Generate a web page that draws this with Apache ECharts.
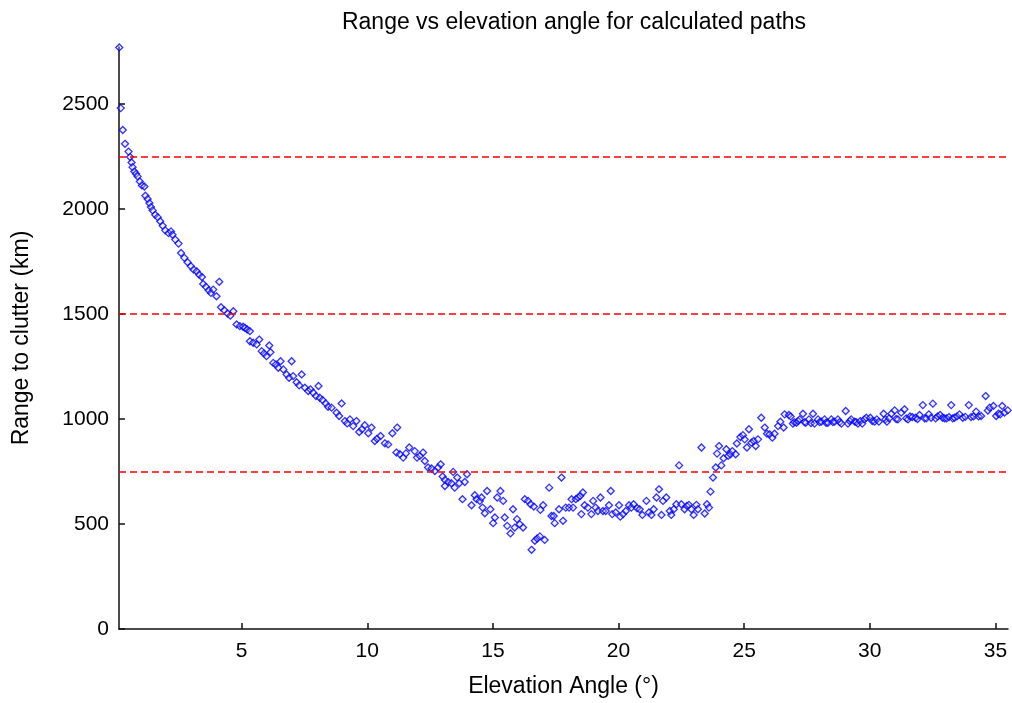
<!DOCTYPE html>
<html>
<head>
<meta charset="utf-8">
<title>Range vs elevation angle for calculated paths</title>
<script src="https://cdn.jsdelivr.net/npm/echarts@6/dist/echarts.min.js"></script>
<style>
  html, body { margin: 0; padding: 0; background: #ffffff; }
  #chart { width: 1012px; height: 703px; }
</style>
</head>
<body>
<div id="chart"></div>
<script>
// Elevation angle of each calculated path (degrees)
const elevationDeg = [
  0.13, 0.19, 0.27, 0.36, 0.50, 0.56, 0.62, 0.66, 0.73, 0.80, 0.86, 0.95, 1.03, 1.13, 1.17, 1.26,
  1.33, 1.39, 1.46, 1.56, 1.66, 1.76, 1.86, 1.96, 2.09, 2.19, 2.25, 2.36, 2.49, 2.59, 2.72, 2.85,
  2.98, 3.09, 3.21, 3.31, 3.42, 3.47, 3.58, 3.69, 3.78, 3.87, 4.00, 4.11, 4.18, 4.31, 4.44, 4.55,
  4.67, 4.80, 4.93, 5.06, 5.13, 5.22, 5.33, 5.33, 5.46, 5.60, 5.70, 5.80, 5.89, 5.99, 6.10, 6.15,
  6.26, 6.36, 6.46, 6.55, 6.66, 6.79, 6.89, 6.99, 7.05, 7.19, 7.29, 7.39, 7.52, 7.65, 7.74, 7.85,
  7.96, 8.06, 8.11, 8.22, 8.35, 8.44, 8.58, 8.78, 8.88, 8.98, 9.11, 9.20, 9.31, 9.44, 9.57, 9.68,
  9.79, 9.90, 10.04, 10.17, 10.30, 10.39, 10.53, 10.70, 10.83, 11.00, 11.16, 11.19, 11.30, 11.43, 11.54, 11.67,
  11.89, 11.98, 12.09, 12.22, 12.29, 12.42, 12.56, 12.69, 12.82, 12.92, 13.00, 13.09, 13.09, 13.22, 13.35, 13.42,
  13.48, 13.58, 13.66, 13.79, 13.88, 13.97, 14.15, 14.28, 14.35, 14.48, 14.55, 14.59, 14.68, 14.77, 14.90, 15.01,
  15.08, 15.17, 15.30, 15.41, 15.47, 15.57, 15.70, 15.80, 15.87, 15.96, 16.07, 16.20, 16.27, 16.40, 16.50, 16.54,
  16.63, 16.67, 16.76, 16.87, 16.89, 17.00, 17.06, 17.24, 17.33, 17.42, 17.46, 17.63, 17.73, 17.79, 17.90, 18.03,
  18.13, 18.19, 18.30, 18.39, 18.48, 18.52, 18.58, 18.65, 18.78, 18.92, 18.99, 19.09, 19.18, 19.28, 19.38, 19.49,
  19.62, 19.69, 19.75, 19.89, 20.02, 20.07, 20.18, 20.29, 20.42, 20.51, 20.60, 20.74, 20.84, 20.95, 21.11, 21.21,
  21.31, 21.40, 21.51, 21.61, 21.71, 21.77, 21.90, 22.04, 22.10, 22.20, 22.30, 22.41, 22.50, 22.63, 22.72, 22.80,
  22.90, 22.99, 23.10, 23.16, 23.30, 23.43, 23.52, 23.60, 23.66, 23.76, 23.87, 23.92, 24.00, 24.09, 24.18, 24.29,
  24.36, 24.45, 24.53, 24.66, 24.71, 24.85, 24.95, 25.02, 25.11, 25.19, 25.29, 25.38, 25.46, 25.55, 25.68, 25.82,
  25.91, 26.01, 26.12, 26.21, 26.35, 26.44, 26.57, 26.61, 26.78, 26.85, 26.94, 27.00, 27.08, 27.15, 27.21, 27.34,
  27.40, 27.45, 27.58, 27.66, 27.74, 27.80, 27.94, 28.00, 28.07, 28.20, 28.26, 28.33, 28.47, 28.53, 28.60, 28.73,
  28.80, 28.87, 29.04, 29.13, 29.20, 29.26, 29.40, 29.46, 29.53, 29.62, 29.70, 29.78, 29.86, 30.02, 30.10, 30.19,
  30.28, 30.36, 30.55, 30.62, 30.68, 30.77, 30.86, 30.99, 31.05, 31.12, 31.25, 31.38, 31.45, 31.52, 31.60, 31.69,
  31.82, 31.90, 31.98, 32.11, 32.18, 32.25, 32.35, 32.44, 32.51, 32.62, 32.70, 32.80, 32.90, 32.98, 33.06, 33.15,
  33.24, 33.30, 33.37, 33.47, 33.57, 33.70, 33.80, 33.94, 34.03, 34.13, 34.23, 34.33, 34.43, 34.61, 34.70, 34.77,
  34.92, 35.03, 35.12, 35.19, 35.27, 35.36, 35.49
];

// Range to clutter along each path (km)
const rangeKm = [
  2769, 2480, 2376, 2310, 2273, 2247, 2221, 2199, 2178, 2167, 2155, 2131, 2112, 2107, 2063, 2047,
  2028, 2009, 1993, 1972, 1961, 1941, 1920, 1898, 1885, 1893, 1877, 1854, 1835, 1790, 1767, 1746,
  1727, 1711, 1703, 1687, 1676, 1643, 1629, 1613, 1600, 1616, 1584, 1653, 1532, 1518, 1502, 1492,
  1513, 1450, 1442, 1439, 1434, 1426, 1418, 1370, 1363, 1355, 1378, 1323, 1312, 1299, 1350, 1318,
  1267, 1259, 1244, 1275, 1236, 1212, 1196, 1275, 1204, 1175, 1160, 1212, 1149, 1133, 1141, 1125,
  1109, 1157, 1101, 1090, 1074, 1058, 1054, 1030, 1014, 1074, 990, 979, 998, 966, 990, 938,
  951, 970, 932, 959, 895, 906, 919, 884, 879, 932, 840, 959, 832, 816, 836, 864,
  847, 816, 824, 840, 800, 769, 764, 752, 769, 784, 726, 710, 681, 700, 694, 748,
  673, 721, 694, 618, 700, 737, 589, 637, 618, 610, 626, 578, 551, 657, 570, 504,
  531, 626, 657, 610, 531, 491, 455, 570, 483, 523, 499, 483, 618, 610, 594, 377,
  583, 420, 431, 441, 567, 589, 424, 673, 538, 538, 504, 570, 721, 515, 578, 578,
  618, 578, 618, 626, 634, 547, 650, 589, 578, 547, 610, 578, 562, 626, 562, 562,
  589, 657, 547, 555, 589, 535, 547, 562, 589, 578, 594, 575, 570, 543, 610, 555,
  543, 570, 626, 665, 543, 610, 626, 562, 543, 570, 594, 779, 594, 570, 586, 591,
  570, 543, 591, 570, 864, 550, 594, 578, 654, 721, 769, 835, 871, 779, 813, 856,
  824, 832, 847, 832, 883, 914, 923, 903, 864, 951, 887, 895, 871, 903, 1006, 959,
  930, 927, 911, 930, 966, 987, 959, 1022, 1019, 1012, 978, 985, 982, 990, 998, 1025,
  985, 982, 998, 980, 1025, 978, 998, 985, 987, 998, 982, 982, 998, 985, 987, 998,
  985, 978, 1038, 978, 990, 998, 987, 985, 978, 990, 978, 998, 1006, 1006, 990, 987,
  998, 987, 1025, 998, 987, 1003, 1025, 1041, 1000, 998, 1030, 1046, 1003, 998, 1012, 1009,
  1006, 1000, 1019, 1066, 1003, 1003, 1022, 1006, 1073, 1003, 1012, 1019, 1006, 1003, 1003, 1009,
  1066, 1003, 1006, 1012, 1022, 1006, 1010, 1066, 1009, 1012, 1035, 1012, 1014, 1109, 1040, 1054,
  1062, 1014, 1025, 1022, 1062, 1030, 1041
];

// Horizontal reference levels (km)
const referenceLevels = [750, 1500, 2250];

// Axis tick positions
const xTicks = [5, 10, 15, 20, 25, 30, 35];
const yTicks = [0, 500, 1000, 1500, 2000, 2500];

const points = elevationDeg.map((e, i) => [e, rangeKm[i]]);

const font = '"Liberation Sans", Arial, sans-serif';
const plainNumber = v => String(v);

const chart = echarts.init(document.getElementById('chart'), null, { renderer: 'canvas' });

chart.setOption({
  backgroundColor: '#ffffff',
  animation: false,
  title: {
    text: 'Range vs elevation angle for calculated paths',
    left: 569,
    top: 6,
    textAlign: 'center',
    textStyle: { fontFamily: font, fontSize: 23, fontWeight: 'normal', color: '#000000' }
  },
  grid: { left: 119, right: 4, top: 47, bottom: 73, containLabel: false },
  xAxis: {
    type: 'value',
    min: 0.12,
    max: 35.5,
    name: 'Elevation Angle (°)',
    nameLocation: 'middle',
    nameGap: 46,
    nameTextStyle: { fontFamily: font, fontSize: 23, color: '#000000' },
    axisLine: { show: true, onZero: false, lineStyle: { color: '#111111', width: 1.5 } },
    axisTick: { show: true, inside: true, length: 6, customValues: xTicks, lineStyle: { color: '#111111', width: 1.5 } },
    axisLabel: { customValues: xTicks, formatter: plainNumber, fontFamily: font, fontSize: 21, color: '#000000', margin: 12 },
    splitLine: { show: false }
  },
  yAxis: {
    type: 'value',
    min: 0,
    max: 2771,
    name: 'Range to clutter (km)',
    nameLocation: 'middle',
    nameGap: 86,
    nameTextStyle: { fontFamily: font, fontSize: 23, color: '#000000' },
    axisLine: { show: true, onZero: false, lineStyle: { color: '#111111', width: 1.5 } },
    axisTick: { show: true, inside: true, length: 6, customValues: yTicks, lineStyle: { color: '#111111', width: 1.5 } },
    axisLabel: { customValues: yTicks, formatter: plainNumber, fontFamily: font, fontSize: 21, color: '#000000', margin: 10 },
    splitLine: { show: false }
  },
  series: [{
    type: 'scatter',
    data: points,
    symbol: 'diamond',
    symbolSize: 7,
    clip: false,
    itemStyle: { color: 'rgba(200,200,255,0.35)', borderColor: '#0000ff', borderWidth: 1.3 },
    markLine: {
      silent: true,
      symbol: 'none',
      label: { show: false },
      lineStyle: { color: '#ff0000', type: [7, 4], width: 1.5 },
      data: referenceLevels.map(v => ({ yAxis: v }))
    }
  }]
});
</script>
</body>
</html>
